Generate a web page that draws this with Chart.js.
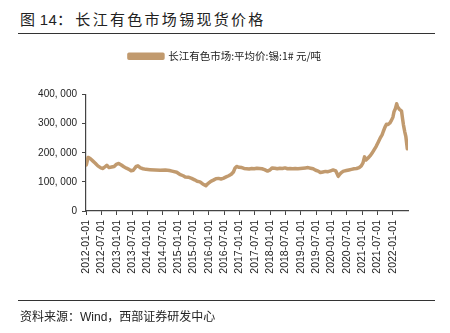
<!DOCTYPE html>
<html>
<head>
<meta charset="utf-8">
<script src="https://cdn.jsdelivr.net/npm/chart.js@4/dist/chart.umd.min.js"></script>
<style>
  body { margin: 0; background: #fff; }
  #wrap { position: relative; width: 450px; height: 333px; background: #fff; overflow: hidden; }
  #tinChart { position: absolute; left: 0; top: 0; }
  .title {
    position: absolute; left: 20px; top: 8px; line-height: 20px;
    font: 15px "Liberation Sans", "Noto Sans CJK SC", sans-serif;
    color: #222; white-space: nowrap;
  }
  .title .no { letter-spacing: 0.3px; margin-right: 3px; }
  .title .name { letter-spacing: 2.3px; }
  .rule { position: absolute; left: 18px; width: 417px; height: 1px; background: #333; }
  .source {
    position: absolute; left: 20px; top: 307px; line-height: 18px;
    font: 12px "Liberation Sans", "Noto Sans CJK SC", sans-serif;
    color: #222; white-space: nowrap;
  }
</style>
</head>
<body>
<div id="wrap">
  <div class="title"><span class="no">图 14：</span><span class="name">长江有色市场锡现货价格</span></div>
  <div class="rule" style="top:33px"></div>
  <canvas id="tinChart" width="450" height="333"></canvas>
  <div class="rule" style="top:300px"></div>
  <div class="source">资料来源：Wind，西部证券研发中心</div>
</div>
<script>
// Spot tin price, Changjiang nonferrous market (yuan / ton)
const seriesLabel = '长江有色市场:平均价:锡:1# 元/吨';

const dates = [
  '2012-01-05', '2012-01-25', '2012-02-20', '2012-03-20', '2012-04-20', '2012-05-20', '2012-06-25', '2012-07-20',
  '2012-08-15', '2012-09-05', '2012-10-01', '2012-11-01', '2012-12-01', '2012-12-25',
  '2013-01-25', '2013-02-25', '2013-03-25', '2013-04-25', '2013-05-25', '2013-06-20', '2013-07-15', '2013-08-20',
  '2013-09-10', '2013-10-10', '2013-11-10', '2013-12-15',
  '2014-02-01', '2014-04-01', '2014-06-01', '2014-08-01', '2014-09-20', '2014-10-20', '2014-12-15',
  '2015-01-20', '2015-03-01', '2015-03-25', '2015-05-01', '2015-06-10', '2015-07-15', '2015-08-15', '2015-09-18',
  '2015-10-20', '2015-11-27', '2015-12-25',
  '2016-01-25', '2016-02-25', '2016-03-25', '2016-04-25', '2016-05-25', '2016-06-20', '2016-07-25', '2016-08-25',
  '2016-09-25', '2016-10-20', '2016-11-10', '2016-11-28', '2016-12-25',
  '2017-01-28', '2017-02-25', '2017-03-25', '2017-04-25', '2017-05-25', '2017-06-25', '2017-07-25', '2017-08-25',
  '2017-09-25', '2017-10-25', '2017-12-01', '2017-12-25',
  '2018-01-25', '2018-02-25', '2018-03-25', '2018-04-25', '2018-05-25', '2018-06-25', '2018-07-25', '2018-08-25',
  '2018-09-25', '2018-10-25', '2018-11-25', '2018-12-25',
  '2019-01-25', '2019-02-25', '2019-03-25', '2019-04-25', '2019-05-25', '2019-06-25', '2019-07-25', '2019-08-20',
  '2019-09-20', '2019-10-20', '2019-11-20', '2019-12-20',
  '2020-01-20', '2020-02-20', '2020-03-20', '2020-04-10', '2020-05-01', '2020-05-25', '2020-06-25', '2020-07-25',
  '2020-08-25', '2020-09-25', '2020-10-25', '2020-11-25', '2020-12-20',
  '2021-01-10', '2021-01-28', '2021-02-15', '2021-03-10', '2021-04-05', '2021-04-25', '2021-05-20', '2021-06-15',
  '2021-07-10', '2021-08-05', '2021-08-25', '2021-09-08', '2021-09-28', '2021-10-15', '2021-11-05', '2021-11-25',
  '2021-12-15',
  '2022-01-01', '2022-01-15', '2022-02-01', '2022-02-15', '2022-02-25', '2022-03-15', '2022-04-01', '2022-04-12',
  '2022-04-25', '2022-05-05', '2022-05-20', '2022-06-03', '2022-06-20'
];

const prices = [
  158000, 184000, 180000, 172000, 164000, 155000, 148000, 146000,
  152000, 157000, 149000, 151000, 153000, 160000,
  163000, 158000, 152000, 147000, 143000, 138000, 140000, 153000,
  155000, 148000, 145000, 143000,
  142000, 141000, 140000, 141000, 139000, 137000, 133000,
  126000, 121000, 117000, 116000, 112000, 107000, 102000, 100000,
  93000, 87000, 95000,
  102000, 106000, 111000, 112000, 110000, 112000, 117000, 121000,
  126000, 134000, 148000, 153000, 150000,
  149000, 146000, 145000, 144000, 146000, 145000, 147000, 146000,
  145000, 142000, 137000, 140000,
  148000, 147000, 145000, 147000, 146000, 148000, 145000, 146000,
  145000, 146000, 145000, 146000,
  147000, 148000, 149000, 147000, 145000, 140000, 137000, 132000,
  134000, 136000, 135000, 138000,
  141000, 138000, 119000, 127000, 133000, 137000, 139000, 141000,
  143000, 145000, 146000, 149000, 155000,
  165000, 186000, 175000, 182000, 190000, 198000, 210000, 222000,
  237000, 252000, 262000, 273000, 288000, 298000, 297000, 302000,
  312000,
  322000, 342000, 352000, 368000, 358000, 350000, 346000, 343000,
  315000, 295000, 272000, 255000, 214000
];

// Half-year tick labels along the x axis
const tickLabels = [
  '2012-01-01', '2012-07-01', '2013-01-01', '2013-07-01', '2014-01-01', '2014-07-01', '2015-01-01',
  '2015-07-01', '2016-01-01', '2016-07-01', '2017-01-01', '2017-07-01', '2018-01-01', '2018-07-01',
  '2019-01-01', '2019-07-01', '2020-01-01', '2020-07-01', '2021-01-01', '2021-07-01', '2022-01-01'
];

// months elapsed since 2012-01-01
function monthIndex(dateStr) {
  const [y, m, d] = dateStr.split('-').map(Number);
  return (y - 2012) * 12 + (m - 1) + (d - 1) / 30;
}

const lineColor = 'rgb(193, 154, 110)';
const axisColor = '#444';
const latinFont = "'Liberation Sans', Arial, sans-serif";
const cjkFont = "'Noto Sans CJK SC', sans-serif";

// push the plot area down below the legend
const legendGap = {
  id: 'legendGap',
  beforeInit(chart) {
    const originalFit = chart.legend.fit;
    chart.legend.fit = function fit() {
      originalFit.bind(chart.legend)();
      this.height += 23;
    };
  }
};

const chartConfig = {
  type: 'line',
  data: {
    datasets: [
      {
        label: seriesLabel,
        data: dates.map((d, i) => ({ x: monthIndex(d), y: prices[i] })),
        borderColor: lineColor,
        backgroundColor: lineColor,
        borderWidth: 3.5,
        borderJoinStyle: 'round',
        borderCapStyle: 'round',
        pointRadius: 0,
        tension: 0,
        fill: false
      }
    ]
  },
  options: {
    responsive: false,
    animation: false,
    devicePixelRatio: 1,
    layout: { padding: { top: 41, left: 0, right: 0, bottom: 42 } },
    plugins: {
      legend: {
        position: 'top',
        labels: {
          boxWidth: 34,
          boxHeight: 4,
          color: '#222',
          font: { family: cjkFont, size: 10.5 }
        }
      },
      tooltip: { enabled: false }
    },
    scales: {
      x: {
        type: 'linear',
        min: 0,
        max: 125.9,
        afterBuildTicks(scale) {
          scale.ticks = tickLabels.map((_, i) => ({ value: i * 6 }));
        },
        afterFit(scale) {
          scale.height = 80;
          scale.paddingRight = 42;
        },
        ticks: {
          autoSkip: false,
          minRotation: 90,
          maxRotation: 90,
          padding: 5,
          color: '#222',
          font: { family: latinFont, size: 10.5 },
          callback: (value) => tickLabels[Math.round(value / 6)]
        },
        grid: { drawOnChartArea: false, drawTicks: true, tickLength: 4, color: axisColor },
        border: { color: axisColor, width: 1.2 }
      },
      y: {
        min: 0,
        max: 400000,
        afterFit(scale) {
          scale.width = 86;
        },
        ticks: {
          stepSize: 50000,
          padding: 5,
          color: '#222',
          font: { family: latinFont, size: 10 },
          callback: (value) => value.toLocaleString('en-US').replace(/,/g, ', ')
        },
        grid: { drawOnChartArea: false, drawTicks: true, tickLength: 4, color: axisColor },
        border: { color: axisColor, width: 1.2 }
      }
    }
  },
  plugins: [legendGap]
};

const tinChart = new Chart(document.getElementById('tinChart'), chartConfig);
</script>
</body>
</html>
